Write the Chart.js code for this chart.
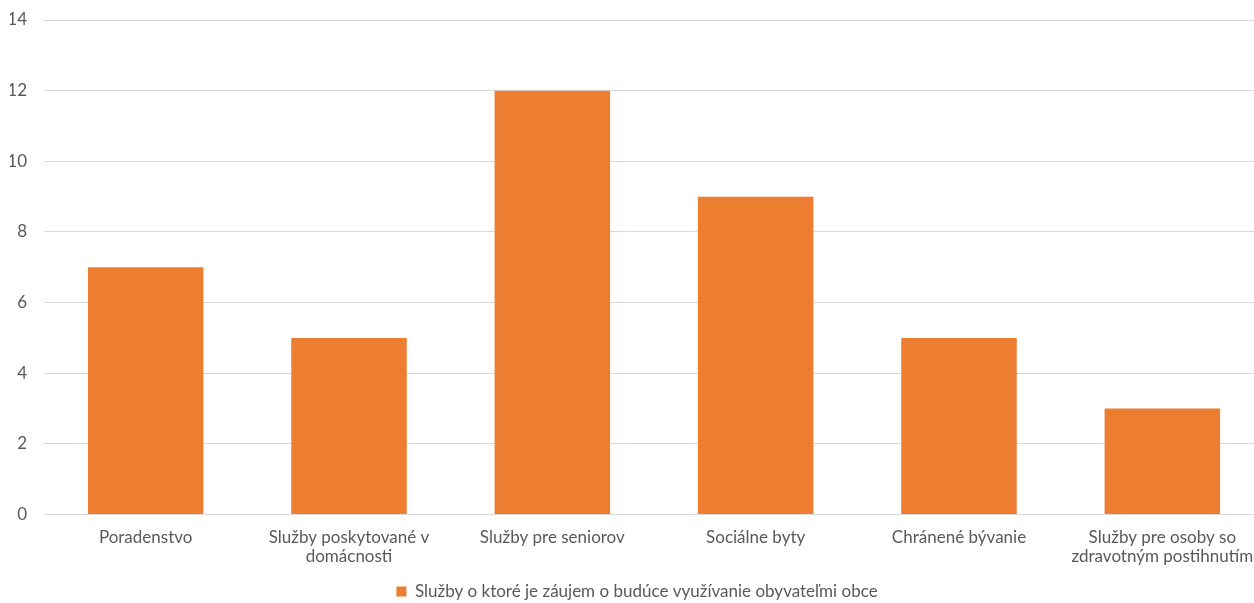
<!DOCTYPE html>
<html lang="sk">
<head>
    <meta charset="UTF-8">
    <title>Služby o ktoré je záujem</title>
    <script src="https://cdn.jsdelivr.net/npm/chart.js"></script>
    <style>
        html, body { margin: 0; padding: 0; background: #fff; overflow: hidden; }
        #wrap { width: 1264px; height: 603px; }
    </style>
</head>
<body>
    <div id="wrap"><canvas id="chartCanvas"></canvas></div>
    <script>
        const categories = [
            'Poradenstvo',
            ['Služby poskytované v', 'domácnosti'],
            'Služby pre seniorov',
            'Sociálne byty',
            'Chránené bývanie',
            ['Služby pre osoby so', 'zdravotným postihnutím']
        ];
        const seriesName = 'Služby o ktoré je záujem o budúce využívanie obyvateľmi obce';
        const values = [7, 5, 12, 9, 5, 3];
        const yMax = 14;
        const yStep = 2;

        const fontFamily = 'Lato, "Open Sans", sans-serif';
        const textColor = '#595959';
        const fontSize = 17;

        // plot runs past the right edge of the window, like the cropped original
        const ctx = document.getElementById('chartCanvas').getContext('2d');
        const chart = new Chart(ctx, {
            type: 'bar',
            data: {
                labels: categories,
                datasets: [
                    { label: seriesName, data: values, backgroundColor: '#ED7D31', borderWidth: 0,
                      barPercentage: 0.568, categoryPercentage: 1 }
                ]
            },
            options: {
                responsive: true,
                maintainAspectRatio: false,
                animation: false,
                layout: { padding: { left: 10, right: 0, top: 0, bottom: -7 } },
                plugins: {
                    tooltip: { enabled: false },
                    legend: {
                        position: 'bottom',
                        labels: { boxWidth: 10, boxHeight: 10, color: textColor, padding: 3,
                                  font: { family: fontFamily, size: fontSize } }
                    }
                },
                scales: {
                    x: {
                        afterFit: (scale) => {
                            scale.paddingLeft = 0;
                            scale.paddingRight = 0;
                        },
                        grid: { display: false, drawTicks: false },
                        border: { color: '#D9D9D9', width: 1 },
                        ticks: { color: textColor, padding: 14, maxRotation: 0, autoSkip: false,
                                 font: { family: fontFamily, size: fontSize, lineHeight: 1.1 } }
                    },
                    y: {
                        min: 0, max: yMax,
                        afterFit: (scale) => {
                            scale.width = 34;
                            scale.paddingTop = 20;
                            scale.paddingBottom = 0;
                        },
                        grid: { color: '#D9D9D9', drawTicks: false },
                        border: { display: false },
                        ticks: { stepSize: yStep, color: textColor, padding: 17,
                                 font: { family: fontFamily, size: fontSize } }
                    }
                }
            }
        });
    </script>
</body>
</html>
